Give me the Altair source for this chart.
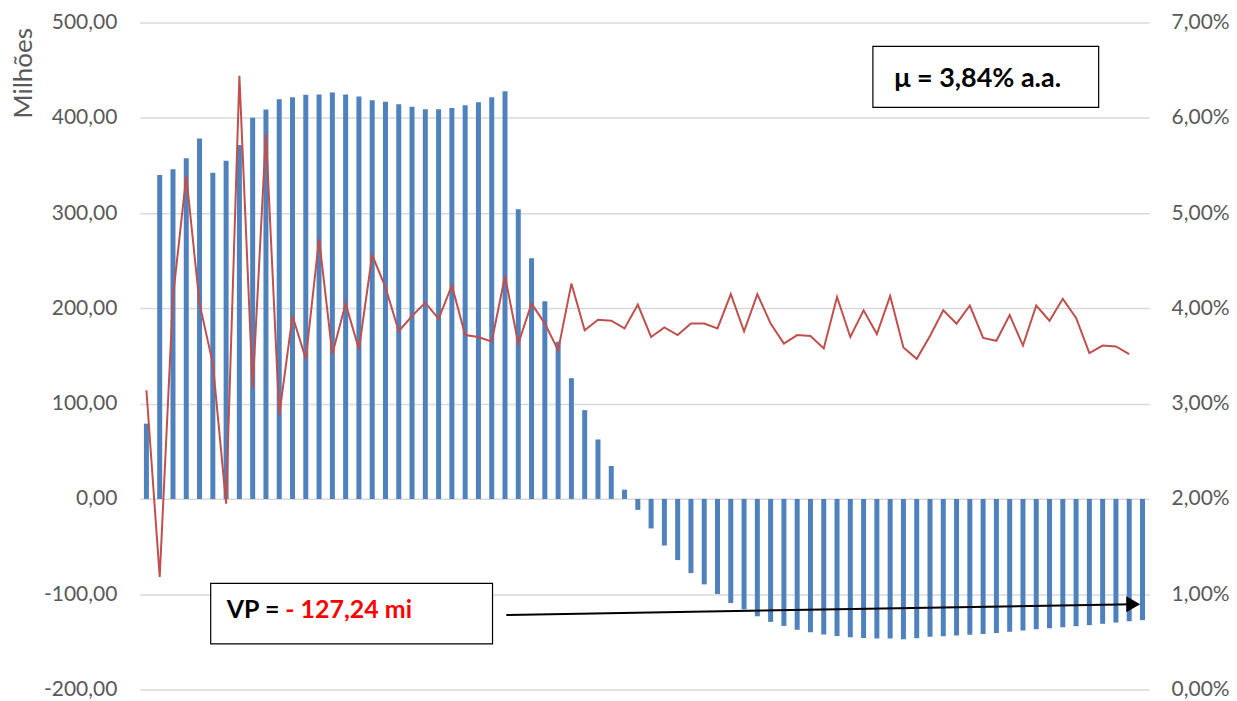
import altair as alt
import pandas as pd

# ---- data ----
valor_presente = [79, 340, 346, 357.5, 378.4, 342.4, 355, 371.4, 400, 408.8,
                  419.6, 421.7, 424.1, 424.5, 426.6, 424.5, 422.4, 418.5, 416.8, 414.3,
                  411.5, 409.1, 409, 410.2, 413.3, 416.4, 421.7, 427.9, 304, 252.7,
                  207.4, 165, 126.7, 93.2, 62.4, 34.6, 9.7, -11.5, -31, -48.9,
                  -64.2, -77.9, -89.7, -99.8, -109.3, -115.9, -123.2, -129.1, -133.3, -137.2,
                  -140, -142.4, -143.8, -145.2, -145.9, -146.6, -146.6, -147.3, -146.2, -144.8,
                  -144.1, -143.4, -142.7, -141.7, -140.7, -139.3, -138.2, -136.8, -135.8, -134.7,
                  -133.6, -132.5, -131.1, -129.8, -128.4, -127.24]

taxa = [3.14, 1.18, 4.12, 5.39, 4.05, 3.42, 1.95, 6.44, 3.16, 5.84,
        2.88, 3.92, 3.47, 4.73, 3.52, 4.05, 3.57, 4.56, 4.22, 3.76,
        3.92, 4.06, 3.89, 4.24, 3.72, 3.70, 3.65, 4.34, 3.63, 4.05,
        3.84, 3.56, 4.26, 3.77, 3.88, 3.87, 3.79, 4.04, 3.70, 3.80,
        3.72, 3.84, 3.84, 3.79, 4.15, 3.76, 4.15, 3.84, 3.63, 3.72,
        3.71, 3.58, 4.12, 3.70, 3.98, 3.73, 4.13, 3.59, 3.47, 3.71,
        3.98, 3.84, 4.03, 3.69, 3.66, 3.93, 3.61, 4.03, 3.87, 4.10,
        3.90, 3.53, 3.61, 3.60, 3.52]

left_ticks = [-200, -100, 0, 100, 200, 300, 400, 500]
right_ticks = [0, 1, 2, 3, 4, 5, 6, 7]

axis_title = "Milhões"
mu_text = "μ = 3,84% a.a."
vp_label = "VP ="
vp_value = "- 127,24 mi"

# annotation anchors in data units (period index, millions)
mu_box = {"x": [54.7], "x2": [71.7], "y": [475], "y2": [411]}
mu_pos = {"x": [56.3], "y": [440.5]}
vp_box = {"x": [4.84], "x2": [26.06], "y": [-88.6], "y2": [-152.1]}
vp_label_pos = {"x": [6.05], "y": [-116.5]}
vp_value_pos = {"x": [10.45], "y": [-116.5]}
arrow_x = [27.1, 74.3]
arrow_y = [-121.8, -110.5]

# ---- tables ----
bars_df = pd.DataFrame({"i": list(range(len(valor_presente))), "v": valor_presente})
line_df = pd.DataFrame({"i": list(range(len(taxa))), "r": taxa})

FONT = "Lato"
GRAY = "#595959"

xscale = alt.Scale(domain=[-0.5, 75.5], nice=False, zero=False, padding=0)
yscale = alt.Scale(domain=[-200, 500], nice=False, zero=False)

left_label = ("(datum.value < 0 ? '-' : '') + replace(format(abs(datum.value), '.2f'), '.', ',')")
right_label = "replace(format(datum.value, '.2f'), '.', ',') + '%'"

left_axis = alt.Axis(values=left_ticks, labelExpr=left_label, title=axis_title,
                     titleAngle=270, titleAlign="right", titleBaseline="middle",
                     titleX=-116, titleY=5, titleFontSize=26, titleFont=FONT,
                     titleFontWeight="normal", titleColor=GRAY,
                     labelPadding=23, grid=True, orient="left")

bars = alt.Chart(bars_df).mark_bar(size=5, color="#4F81BD").encode(
    x=alt.X("i:Q", scale=xscale, axis=None),
    y=alt.Y("v:Q", scale=yscale, axis=left_axis),
)

def box(d):
    df = pd.DataFrame(d)
    return alt.Chart(df).mark_rect(fill="white", stroke="#000000", strokeWidth=1.2).encode(
        x=alt.X("x:Q", scale=xscale, axis=None), x2="x2:Q",
        y=alt.Y("y:Q", scale=yscale, axis=left_axis), y2="y2:Q")

def label(d, txt, color, size):
    df = pd.DataFrame(d)
    df["t"] = txt
    return alt.Chart(df).mark_text(align="left", baseline="middle", font="Lato",
                                   fontSize=size, fontWeight="bold", color=color).encode(
        x=alt.X("x:Q", scale=xscale, axis=None),
        y=alt.Y("y:Q", scale=yscale, axis=left_axis),
        text="t:N")

arrow_df = pd.DataFrame({"x": arrow_x, "y": arrow_y})
arrow_line = alt.Chart(arrow_df).mark_line(color="black", strokeWidth=2).encode(
    x=alt.X("x:Q", scale=xscale, axis=None),
    y=alt.Y("y:Q", scale=yscale, axis=left_axis))
arrow_head = alt.Chart(arrow_df.tail(1)).mark_point(shape="triangle-right", filled=True,
                                                     color="black", size=260, opacity=1).encode(
    x=alt.X("x:Q", scale=xscale, axis=None),
    y=alt.Y("y:Q", scale=yscale, axis=left_axis))

left_layer = alt.layer(
    bars,
    box(mu_box), label(mu_pos, mu_text, "black", 27),
    box(vp_box), label(vp_label_pos, vp_label, "black", 25),
    label(vp_value_pos, vp_value, "#FF0000", 25),
    arrow_line, arrow_head,
)

line = alt.Chart(line_df).mark_line(color="#C0504D", strokeWidth=2).encode(
    x=alt.X("i:Q", scale=xscale, axis=None),
    y=alt.Y("r:Q", scale=alt.Scale(domain=[0, 7], nice=False, zero=False),
            axis=alt.Axis(values=right_ticks, labelExpr=right_label, title=None,
                          grid=False, orient="right", labelPadding=22)),
)

chart = alt.layer(left_layer, line).resolve_scale(y="independent").properties(
    width=1011, height=668,
    padding={"left": 132, "top": 14, "right": 80, "bottom": 20},
    autosize=alt.AutoSizeParams(type="none"),
    background="white",
).configure_view(stroke=None).configure_axis(
    domain=False, ticks=False, labelFont=FONT, labelFontSize=21, labelColor=GRAY,
    gridColor="#D9D9D9", gridWidth=1.5,
)

chart.save("out.html", embed_options={"renderer": "svg", "actions": False})
